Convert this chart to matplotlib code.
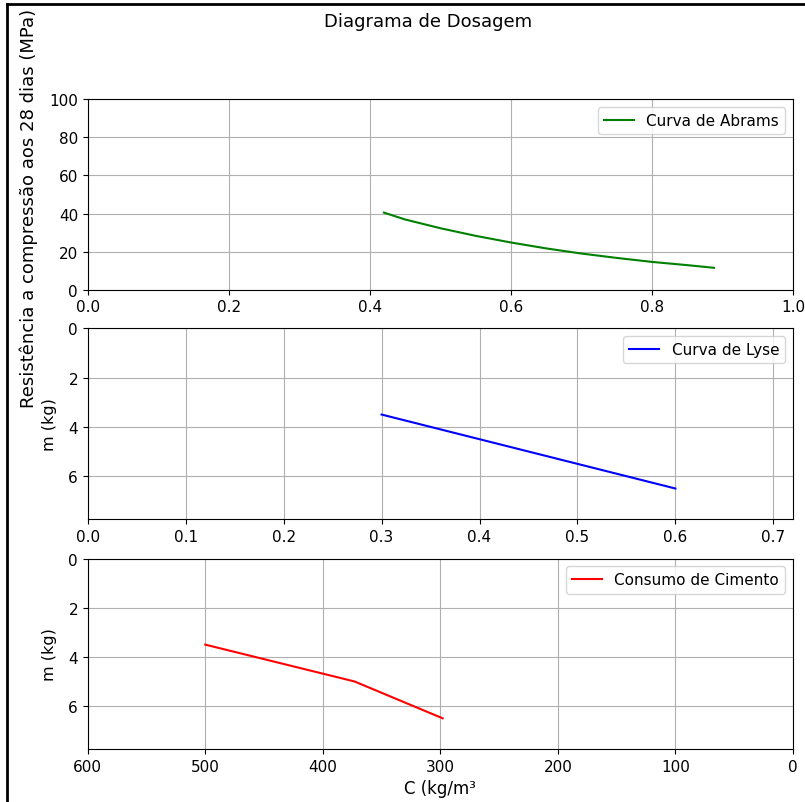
import matplotlib
matplotlib.use("Agg")
import matplotlib.pyplot as plt
from matplotlib.lines import Line2D

# Curva de Abrams (fator a/c x resistencia)
ac_abrams = [0.42, 0.45, 0.50, 0.55, 0.60, 0.65, 0.70, 0.75, 0.80, 0.85, 0.888]
fc_abrams = [40.5, 36.9, 32.3, 28.3, 24.8, 21.7, 19.0, 16.7, 14.6, 12.9, 11.5]

# Curva de Lyse (fator a/c x m)
ac_lyse = [0.3, 0.6]
m_lyse = [3.5, 6.5]

# Consumo de cimento (C x m)
c_consumo = [500, 373, 298]
m_consumo = [3.5, 5.0, 6.5]

fig = plt.figure(figsize=(8.05, 8.03), dpi=100)
ax1 = fig.add_axes([0.109, 0.638, 0.876, 0.237])
ax2 = fig.add_axes([0.109, 0.352, 0.876, 0.238])
ax3 = fig.add_axes([0.109, 0.066, 0.876, 0.237])

# Abrams
ax1.plot(ac_abrams, fc_abrams, color='green', label='Curva de Abrams')
ax1.set_xlim(0, 1)
ax1.set_ylim(0, 100)
ax1.set_xlabel('Fator A/C', fontsize=12, labelpad=11)
ax1.set_ylabel('Resistência a compressão aos 28 dias (MPa)', fontsize=13)
ax1.yaxis.set_label_coords(-0.071, 0.43)
ax1.grid(True)
ax1.legend(loc='upper right', fontsize=11)

# Lyse
ax2.plot(ac_lyse, m_lyse, color='blue', label='Curva de Lyse')
ax2.set_xlim(0, 0.72)
ax2.set_ylim(7.75, 0)
ax2.set_xlabel('Fator A/C', fontsize=12, labelpad=16)
ax2.set_ylabel('m (kg)', fontsize=11.5)
ax2.yaxis.set_label_coords(-0.043, 0.5)
ax2.grid(True)
ax2.legend(loc='upper right', fontsize=11)

# Consumo
ax3.plot(c_consumo, m_consumo, color='red', label='Consumo de Cimento')
ax3.set_xlim(600, 0)
ax3.set_ylim(7.75, 0)
ax3.set_xlabel('C (kg/m³', fontsize=12)
ax3.set_ylabel('m (kg)', fontsize=11.5)
ax3.yaxis.set_label_coords(-0.043, 0.5)
ax3.grid(True)
ax3.legend(loc='upper right', fontsize=11)

for ax in (ax1, ax2, ax3):
    ax.tick_params(labelsize=11)

fig.text(0.532, 0.972, 'Diagrama de Dosagem', ha='center', va='center', fontsize=13)

# moldura do print
fig.add_artist(Line2D([0.009, 0.009], [0, 0.994], color='black', lw=2))
fig.add_artist(Line2D([0.009, 1], [0.994, 0.994], color='black', lw=2))

fig.savefig('out.png', dpi=100)
